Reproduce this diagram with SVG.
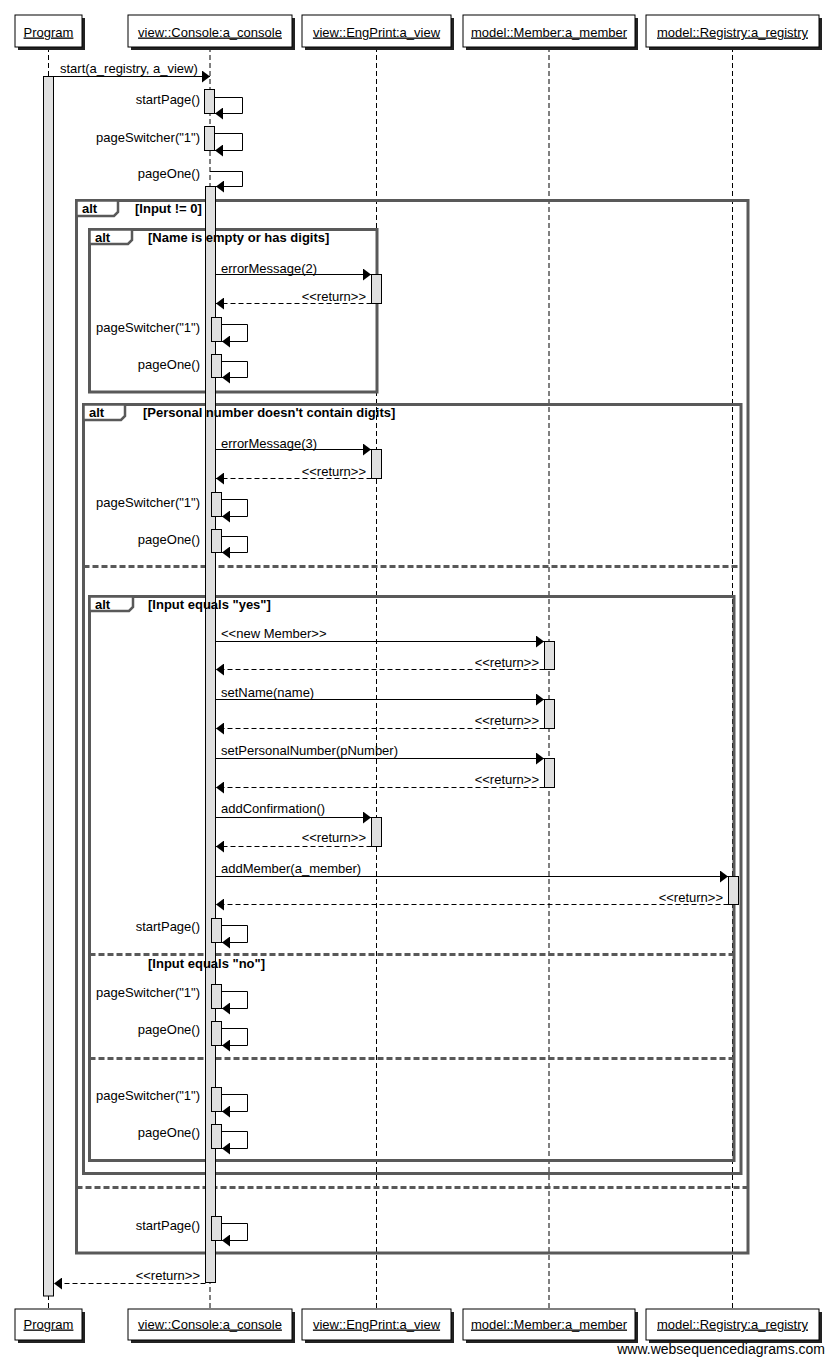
<svg xmlns="http://www.w3.org/2000/svg" width="834" height="1364" viewBox="0 0 834 1364">
<style>
text{font-family:"Liberation Sans",Arial,sans-serif;font-size:13px;fill:#000}
.hd{text-anchor:middle;text-decoration:underline}
.r{text-anchor:end}
.b{font-weight:bold}
.box{fill:#fff;stroke:#000;stroke-width:1}
.sh{fill:#222}
.life{stroke:#000;stroke-width:1;stroke-dasharray:5 3;fill:none}
.act{fill:#e0e0e0;stroke:#000;stroke-width:1}
.msg{stroke:#000;stroke-width:1;fill:none;marker-end:url(#arr)}
.ret{stroke:#000;stroke-width:1;fill:none;stroke-dasharray:5 3;marker-end:url(#arr)}
.frm{fill:none;stroke:#595959;stroke-width:3}
.tab{fill:#fff;stroke:#595959;stroke-width:2.5}
.sep{stroke:#595959;stroke-width:3;stroke-dasharray:6 3}
</style>
<defs>
<marker id="arr" viewBox="0 0 8 12" refX="8" refY="6" markerWidth="8" markerHeight="12" markerUnits="userSpaceOnUse" orient="auto">
<path d="M0,0 L8,6 L0,12 z" fill="#000" stroke="none"/>
</marker>
</defs>
<rect width="834" height="1364" fill="#fff"/>

<g id="lifelines">
<line class="life" x1="48.5" y1="47" x2="48.5" y2="1309"/>
<line class="life" x1="210" y1="47" x2="210" y2="1309"/>
<line class="life" x1="376.5" y1="47" x2="376.5" y2="1309"/>
<line class="life" x1="549" y1="47" x2="549" y2="1309"/>
<line class="life" x1="732.5" y1="47" x2="732.5" y2="1309"/>
</g>

<g id="node-program">
<rect class="sh" x="18" y="18" width="67" height="32"/><rect class="box" x="15" y="15" width="67" height="32"/><text class="hd" x="48.5" y="36.5">Program</text>
<rect class="sh" x="18" y="1312" width="67" height="31"/><rect class="box" x="15" y="1309" width="67" height="31"/><text class="hd" x="48.5" y="1328.5">Program</text>
</g>
<g id="node-console">
<rect class="sh" x="131" y="18" width="164" height="32"/><rect class="box" x="128" y="15" width="164" height="32"/><text class="hd" x="210" y="36.5">view::Console:a_console</text>
<rect class="sh" x="131" y="1312" width="164" height="31"/><rect class="box" x="128" y="1309" width="164" height="31"/><text class="hd" x="210" y="1328.5">view::Console:a_console</text>
</g>
<g id="node-engprint">
<rect class="sh" x="305" y="18" width="149" height="32"/><rect class="box" x="302" y="15" width="149" height="32"/><text class="hd" x="376.5" y="36.5">view::EngPrint:a_view</text>
<rect class="sh" x="305" y="1312" width="149" height="31"/><rect class="box" x="302" y="1309" width="149" height="31"/><text class="hd" x="376.5" y="1328.5">view::EngPrint:a_view</text>
</g>
<g id="node-member">
<rect class="sh" x="466" y="18" width="172" height="32"/><rect class="box" x="463" y="15" width="172" height="32"/><text class="hd" x="549" y="36.5">model::Member:a_member</text>
<rect class="sh" x="466" y="1312" width="172" height="31"/><rect class="box" x="463" y="1309" width="172" height="31"/><text class="hd" x="549" y="1328.5">model::Member:a_member</text>
</g>
<g id="node-registry">
<rect class="sh" x="649" y="18" width="173" height="32"/><rect class="box" x="646" y="15" width="173" height="32"/><text class="hd" x="732.5" y="36.5">model::Registry:a_registry</text>
<rect class="sh" x="649" y="1312" width="173" height="31"/><rect class="box" x="646" y="1309" width="173" height="31"/><text class="hd" x="732.5" y="1328.5">model::Registry:a_registry</text>
</g>

<g id="frames">
<rect class="frm" x="76.5" y="200.5" width="671.5" height="1052.5"/>
<line class="sep" x1="76.5" y1="1187.5" x2="748" y2="1187.5"/>
<rect class="frm" x="89.5" y="229.5" width="287.5" height="162.5"/>
<rect class="frm" x="83.5" y="404.5" width="657.5" height="769"/>
<line class="sep" x1="83.5" y1="566.5" x2="741" y2="566.5"/>
<rect class="frm" x="89.5" y="596.5" width="644.5" height="564"/>
<line class="sep" x1="89.5" y1="954.5" x2="734" y2="954.5"/>
<line class="sep" x1="89.5" y1="1058.5" x2="734" y2="1058.5"/>
</g>

<g id="activations">
<rect class="act" x="43.5" y="76.5" width="10" height="1219.5"/>
<rect class="act" x="204.5" y="89.5" width="10" height="24"/>
<rect class="act" x="204.5" y="126.5" width="10" height="24"/>
<rect class="act" x="205.5" y="186.5" width="10" height="1096"/>
<rect class="act" x="211.5" y="317.5" width="10" height="24"/>
<rect class="act" x="211.5" y="354.5" width="10" height="23"/>
<rect class="act" x="371.5" y="274.5" width="10" height="29"/>
<rect class="act" x="371.5" y="449.5" width="10" height="29"/>
<rect class="act" x="211.5" y="492.5" width="10" height="24"/>
<rect class="act" x="211.5" y="529.5" width="10" height="23"/>
<rect class="act" x="544.5" y="641.5" width="10" height="28"/>
<rect class="act" x="544.5" y="699.5" width="10" height="29"/>
<rect class="act" x="544.5" y="758.5" width="10" height="29"/>
<rect class="act" x="371.5" y="817.5" width="10" height="29"/>
<rect class="act" x="728.5" y="876.5" width="10" height="28"/>
<rect class="act" x="211.5" y="918.5" width="10" height="24"/>
<rect class="act" x="211.5" y="984.5" width="10" height="24"/>
<rect class="act" x="211.5" y="1021.5" width="10" height="24"/>
<rect class="act" x="211.5" y="1087.5" width="10" height="24"/>
<rect class="act" x="211.5" y="1124.5" width="10" height="24"/>
<rect class="act" x="211.5" y="1216.5" width="10" height="24"/>
</g>

<g id="connectors">
<path class="msg" d="M53.5,76.5 H210"/>
<path class="msg" d="M214.5,97.5 H242.5 V113.5 H215"/>
<path class="msg" d="M214.5,133.5 H242.5 V150.5 H215"/>
<path class="msg" d="M210,171.5 H242.5 V186.5 H216"/>
<path class="msg" d="M215.5,274.5 H371"/>
<path class="ret" d="M371.5,303.5 H216"/>
<path class="msg" d="M221.5,324.5 H247.5 V341.5 H222"/>
<path class="msg" d="M221.5,361.5 H247.5 V377.5 H222"/>
<path class="msg" d="M215.5,449.5 H371"/>
<path class="ret" d="M371.5,478.5 H216"/>
<path class="msg" d="M221.5,499.5 H247.5 V516.5 H222"/>
<path class="msg" d="M221.5,536.5 H247.5 V552.5 H222"/>
<path class="msg" d="M215.5,641.5 H544"/>
<path class="ret" d="M544.5,669.5 H216"/>
<path class="msg" d="M215.5,699.5 H544"/>
<path class="ret" d="M544.5,728.5 H216"/>
<path class="msg" d="M215.5,758.5 H544"/>
<path class="ret" d="M544.5,787.5 H216"/>
<path class="msg" d="M215.5,817.5 H371"/>
<path class="ret" d="M371.5,846.5 H216"/>
<path class="msg" d="M215.5,876.5 H728"/>
<path class="ret" d="M728.5,904.5 H216"/>
<path class="msg" d="M221.5,925.5 H247.5 V942.5 H222"/>
<path class="msg" d="M221.5,991.5 H247.5 V1008.5 H222"/>
<path class="msg" d="M221.5,1028.5 H247.5 V1045.5 H222"/>
<path class="msg" d="M221.5,1094.5 H247.5 V1111.5 H222"/>
<path class="msg" d="M221.5,1131.5 H247.5 V1148.5 H222"/>
<path class="msg" d="M221.5,1223.5 H247.5 V1240.5 H222"/>
<path class="ret" d="M205.5,1283.5 H54"/>
</g>

<g id="labels">
<text x="60" y="72.5">start(a_registry, a_view)</text>
<text class="r" x="200" y="103.5">startPage()</text>
<text class="r" x="200" y="141.5">pageSwitcher("1")</text>
<text class="r" x="200" y="177.5">pageOne()</text>
<text x="221" y="272.5">errorMessage(2)</text>
<text class="r" x="366" y="300.5">&lt;&lt;return&gt;&gt;</text>
<text class="r" x="200" y="331.5">pageSwitcher("1")</text>
<text class="r" x="200" y="368.5">pageOne()</text>
<text x="221" y="447.5">errorMessage(3)</text>
<text class="r" x="366" y="475.5">&lt;&lt;return&gt;&gt;</text>
<text class="r" x="200" y="506.5">pageSwitcher("1")</text>
<text class="r" x="200" y="543.5">pageOne()</text>
<text x="221" y="637.5">&lt;&lt;new Member&gt;&gt;</text>
<text class="r" x="539" y="666.5">&lt;&lt;return&gt;&gt;</text>
<text x="221" y="696.5">setName(name)</text>
<text class="r" x="539" y="724.5">&lt;&lt;return&gt;&gt;</text>
<text x="221" y="754.5">setPersonalNumber(pNumber)</text>
<text class="r" x="539" y="783.5">&lt;&lt;return&gt;&gt;</text>
<text x="221" y="812.5">addConfirmation()</text>
<text class="r" x="366" y="841.5">&lt;&lt;return&gt;&gt;</text>
<text x="221" y="872.5">addMember(a_member)</text>
<text class="r" x="723" y="901.5">&lt;&lt;return&gt;&gt;</text>
<text class="r" x="200" y="930.5">startPage()</text>
<text class="r" x="200" y="996.5">pageSwitcher("1")</text>
<text class="r" x="200" y="1033.5">pageOne()</text>
<text class="r" x="200" y="1099.5">pageSwitcher("1")</text>
<text class="r" x="200" y="1136.5">pageOne()</text>
<text class="r" x="200" y="1229.5">startPage()</text>
<text class="r" x="200" y="1279.5">&lt;&lt;return&gt;&gt;</text>
</g>

<g id="frame-labels">
<path class="tab" d="M76.5,200.5 H118 V212 L114,216 H76.5 z"/>
<text class="b" x="82" y="212.5">alt</text>
<text class="b" x="135" y="212.5">[Input != 0]</text>
<path class="tab" d="M89.5,229.5 H132 V240 L128,244 H89.5 z"/>
<text class="b" x="95" y="241.5">alt</text>
<text class="b" x="148" y="241.5">[Name is empty or has digits]</text>
<path class="tab" d="M83.5,404.5 H125 V416 L121,420 H83.5 z"/>
<text class="b" x="89" y="416.5">alt</text>
<text class="b" x="143" y="416.5">[Personal number doesn't contain digits]</text>
<path class="tab" d="M89.5,596.5 H133 V607 L129,611 H89.5 z"/>
<text class="b" x="95" y="608.5">alt</text>
<text class="b" x="148" y="608.5">[Input equals "yes"]</text>
<text class="b" x="148" y="967.5">[Input equals "no"]</text>
</g>

<text class="r" x="825" y="1354" style="font-size:14px">www.websequencediagrams.com</text>
</svg>
